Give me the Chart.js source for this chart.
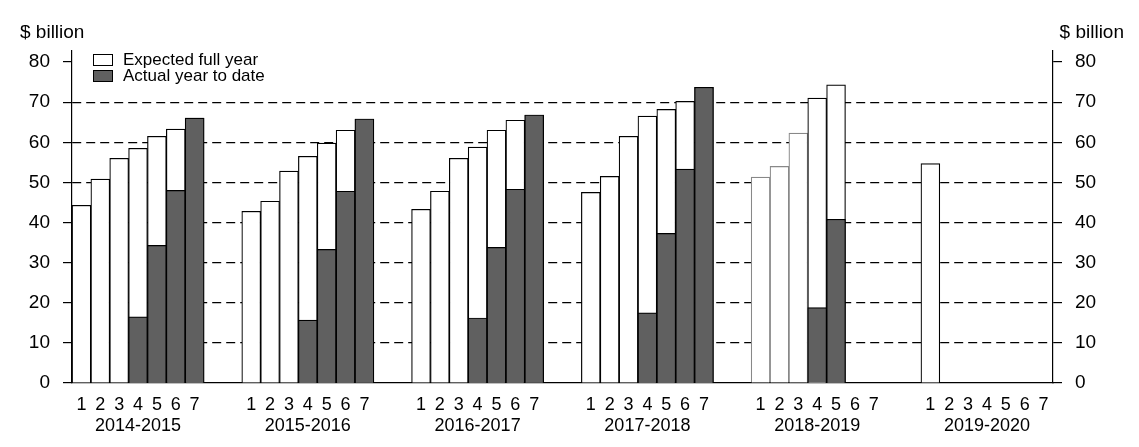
<!DOCTYPE html>
<html>
<head>
<meta charset="utf-8">
<script src="https://cdn.jsdelivr.net/npm/chart.js@4"></script>
<style>
  body { margin: 0; background: #fff; }
  #wrap { width: 1139px; height: 447px; }
</style>
</head>
<body>
<div id="wrap"><canvas id="c"></canvas></div>
<script>
const years = ['2014-2015', '2015-2016', '2016-2017', '2017-2018', '2018-2019', '2019-2020'];
const estimates = ['1', '2', '3', '4', '5', '6', '7'];

// expected full year / actual year to date, per estimate within each year
const expected = [
    [44.3, 50.8, 56.0, 58.5, 61.5, 63.3, 66.0],
    [42.8, 45.3, 52.8, 56.5, 59.8, 63.0, 65.8],
    [43.3, 47.8, 56.0, 58.8, 63.0, 65.5, 66.8],
    [47.5, 51.5, 61.5, 66.5, 68.2, 70.2, 73.7],
    [51.3, 54.0, 62.3, 71.0, 74.3, null, null],
    [54.7, null, null, null, null, null, null]
];
const actual = [
    [null, null, null, 16.5, 34.3, 48.0, 66.0],
    [null, null, null, 15.7, 33.3, 47.8, 65.8],
    [null, null, null, 16.2, 33.8, 48.3, 66.8],
    [null, null, null, 17.5, 37.3, 53.3, 73.7],
    [null, null, null, 18.8, 40.8, null, null],
    [null, null, null, null, null, null, null]
];
const yTicks = [0, 5, 10, 15, 20, 25, 30, 35, 40, 45, 50, 55, 60, 65, 70, 75, 80];

// build flat category list with two blank slots between years
const labels = [], expData = [], actData = [], greyEdge = [];
years.forEach((yr, g) => {
    if (g > 0) { labels.push(['', '']); labels.push(['', '']); expData.push(null, null); actData.push(null, null); greyEdge.push(false, false); }
    estimates.forEach((e, i) => {
        labels.push([e, i === 3 ? yr : '']);
        expData.push(expected[g][i]);
        actData.push(actual[g][i]);
        greyEdge.push(g === 4 && i < 3);
    });
});

const textPlugin = {
    id: 'texts',
    afterDraw(chart) {
        const ctx = chart.ctx;
        ctx.save();
        ctx.font = '19px "Liberation Sans", Arial';
        ctx.fillStyle = '#000';
        ctx.textBaseline = 'middle';
        ctx.textAlign = 'left';
        ctx.fillText('$ billion', 20, 33);
        ctx.textAlign = 'right';
        ctx.fillText('$ billion', 1124, 33);
        // legend
        ctx.font = '17px "Liberation Sans", Arial';
        ctx.textAlign = 'left';
        ctx.lineWidth = 1;
        ctx.strokeStyle = '#000';
        ctx.fillStyle = '#fff';
        ctx.fillRect(93, 54, 19, 11); ctx.strokeRect(93.5, 54.5, 19, 11);
        ctx.fillStyle = '#606060';
        ctx.fillRect(93, 70, 19, 11); ctx.strokeRect(93.5, 70.5, 19, 11);
        ctx.fillStyle = '#000';
        ctx.fillText('Expected full year', 123, 60);
        ctx.fillText('Actual year to date', 123, 76);
        ctx.restore();
    }
};

const tickFont = { family: '"Liberation Sans", Arial', size: 19 };

new Chart(document.getElementById('c'), {
    type: 'bar',
    data: {
        labels: labels,
        datasets: [
            {
                label: 'Actual year to date',
                data: actData,
                backgroundColor: '#606060',
                borderColor: '#000',
                borderWidth: 1.2
            },
            {
                label: 'Expected full year',
                data: expData,
                backgroundColor: '#fff',
                borderColor: ctx => greyEdge[ctx.dataIndex] ? '#888' : '#000',
                borderWidth: 1.2
            }
        ]
    },
    options: {
        responsive: true,
        maintainAspectRatio: false,
        animation: false,
        layout: { padding: { top: 51, left: 0, right: 0, bottom: 0 } },
        plugins: { legend: { display: false }, tooltip: { enabled: false } },
        datasets: { bar: { categoryPercentage: 1, barPercentage: 1 } },
        scales: {
            x: {
                stacked: true,
                grid: { display: false },
                border: { color: '#000', width: 1.2 },
                ticks: { color: '#000', font: { family: '"Liberation Sans", Arial', size: 18 }, maxRotation: 0, autoSkip: false, padding: 3 },
                afterFit: s => { s.height = 64; }
            },
            y: {
                position: 'left',
                min: 0,
                max: 82.75,
                afterBuildTicks: s => { s.ticks = yTicks.map(v => ({ value: v })); },
                grid: {
                    color: c => (c.tick && c.tick.value % 10 === 0 && c.tick.value > 0 && c.tick.value < 80) ? '#000' : 'rgba(0,0,0,0)',
                    tickColor: '#000',
                    tickLength: 9,
                    lineWidth: 1.2
                },
                border: { color: '#000', width: 1.2, dash: [9, 5] },
                ticks: {
                    color: '#000', font: tickFont, padding: 13,
                    callback: v => v % 10 === 0 ? v : ''
                },
                afterFit: s => { s.width = 72; }
            },
            y2: {
                position: 'right',
                min: 0,
                max: 82.75,
                afterBuildTicks: s => { s.ticks = yTicks.map(v => ({ value: v })); },
                grid: { drawOnChartArea: false, tickColor: '#000', tickLength: 9, lineWidth: 1.2 },
                border: { color: '#000', width: 1.2 },
                ticks: {
                    color: '#000', font: tickFont, padding: 13,
                    callback: v => v % 10 === 0 ? v : ''
                },
                afterFit: s => { s.width = 86; }
            }
        }
    },
    plugins: [textPlugin]
});
</script>
</body>
</html>
